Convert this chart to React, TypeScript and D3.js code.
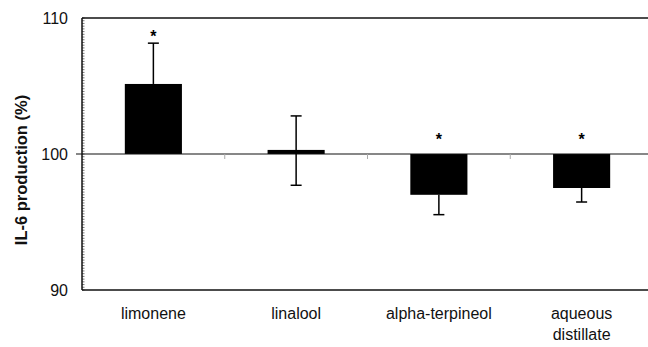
import * as d3 from 'd3'

const categories = ['limonene', 'linalool', 'alpha-terpineol', 'aqueous distillate']
const categoryLines = [['limonene'], ['linalool'], ['alpha-terpineol'], ['aqueous', 'distillate']]
const values = [105.15, 100.3, 97.0, 97.5]
const errHigh = [3.0, 2.5, 0, 0]
const errLow = [0, 2.6, 1.46, 1.03]
const significant = [true, false, true, true]
const yTicks = [90, 100, 110]
const baseline = 100

const W = 648
const H = 347
const FONT = '"Liberation Sans", Arial, Helvetica, sans-serif'

export default function App() {
  const left = 82
  const right = 653
  const top = 18
  const bottom = 290

  const x = d3.scaleBand<string>().domain(categories).range([left, right]).padding(0)
  const y = d3.scaleLinear().domain([90, 110]).range([bottom, top])
  const barW = x.bandwidth() * 0.4
  const capW = 11

  const minorTicks = d3.range(90, 110.001, 0.2)
  const boundaries = categories.slice(1).map((c) => x(c)!)

  return (
    <svg
      width={W}
      height={H}
      style={{ position: 'absolute', left: 0, top: 0, background: '#fff' }}
      fontFamily={FONT}
    >
      {/* minor ticks inside the y axis */}
      {minorTicks.map((t, i) => (
        <line key={'m' + i} x1={left} x2={left + 2.5} y1={y(t)} y2={y(t)} stroke="#555" strokeWidth={0.8} />
      ))}

      {/* bars */}
      {categories.map((c, i) => {
        const cx = x(c)! + x.bandwidth() / 2
        const y0 = y(Math.max(values[i], baseline))
        const y1 = y(Math.min(values[i], baseline))
        return <rect key={c} x={cx - barW / 2} y={y0} width={barW} height={y1 - y0} fill="#000" />
      })}

      {/* baseline at 100 */}
      <line x1={left - 6} x2={W} y1={y(baseline)} y2={y(baseline)} stroke="#111" strokeWidth={1.2} />
      {boundaries.map((bx, i) => (
        <line key={'b' + i} x1={bx} x2={bx} y1={y(baseline)} y2={y(baseline) + 5} stroke="#aaa" strokeWidth={1} />
      ))}

      {/* error bars */}
      {categories.map((c, i) => {
        const cx = x(c)! + x.bandwidth() / 2
        const hi = values[i] + errHigh[i]
        const lo = values[i] - errLow[i]
        return (
          <g key={'e' + c} stroke="#000" strokeWidth={1.5}>
            {errHigh[i] > 0 && (
              <>
                <line x1={cx} x2={cx} y1={y(values[i])} y2={y(hi)} />
                <line x1={cx - capW / 2} x2={cx + capW / 2} y1={y(hi)} y2={y(hi)} />
              </>
            )}
            {errLow[i] > 0 && (
              <>
                <line x1={cx} x2={cx} y1={y(values[i])} y2={y(lo)} />
                <line x1={cx - capW / 2} x2={cx + capW / 2} y1={y(lo)} y2={y(lo)} />
              </>
            )}
          </g>
        )
      })}

      {/* significance stars */}
      {categories.map((c, i) => {
        if (!significant[i]) return null
        const cx = x(c)! + x.bandwidth() / 2
        const yy = values[i] > baseline ? y(values[i] + errHigh[i]) - 10 : y(baseline) - 18
        return (
          <text key={'s' + c} x={cx} y={yy} textAnchor="middle" fontSize={16} fontWeight="bold" dy="0.55em" fill="#000">
            *
          </text>
        )
      })}

      {/* frame */}
      <line x1={left} x2={left} y1={top} y2={bottom} stroke="#111" strokeWidth={1.5} />
      <line x1={left} x2={W} y1={top} y2={top} stroke="#111" strokeWidth={1.5} />
      <line x1={left} x2={W} y1={bottom} y2={bottom} stroke="#111" strokeWidth={1.5} />

      {/* y tick labels */}
      {yTicks.map((t) => (
        <text key={'t' + t} x={68} y={y(t)} dy="0.36em" textAnchor="end" fontSize={16} fill="#111">
          {t}
        </text>
      ))}

      {/* y axis title */}
      <text
        transform={`translate(21,${170}) rotate(-90)`}
        textAnchor="middle"
        fontSize={16.5}
        fontWeight="bold"
        fill="#111"
        dy="0.35em"
      >
        IL-6 production (%)
      </text>

      {/* category labels */}
      {categories.map((c, i) => {
        const cx = x(c)! + x.bandwidth() / 2
        return (
          <text key={'c' + c} x={cx} y={319} textAnchor="middle" fontSize={16} fill="#111">
            {categoryLines[i].map((ln, j) => (
              <tspan key={j} x={cx} dy={j === 0 ? 0 : 21}>
                {ln}
              </tspan>
            ))}
          </text>
        )
      })}
    </svg>
  )
}
